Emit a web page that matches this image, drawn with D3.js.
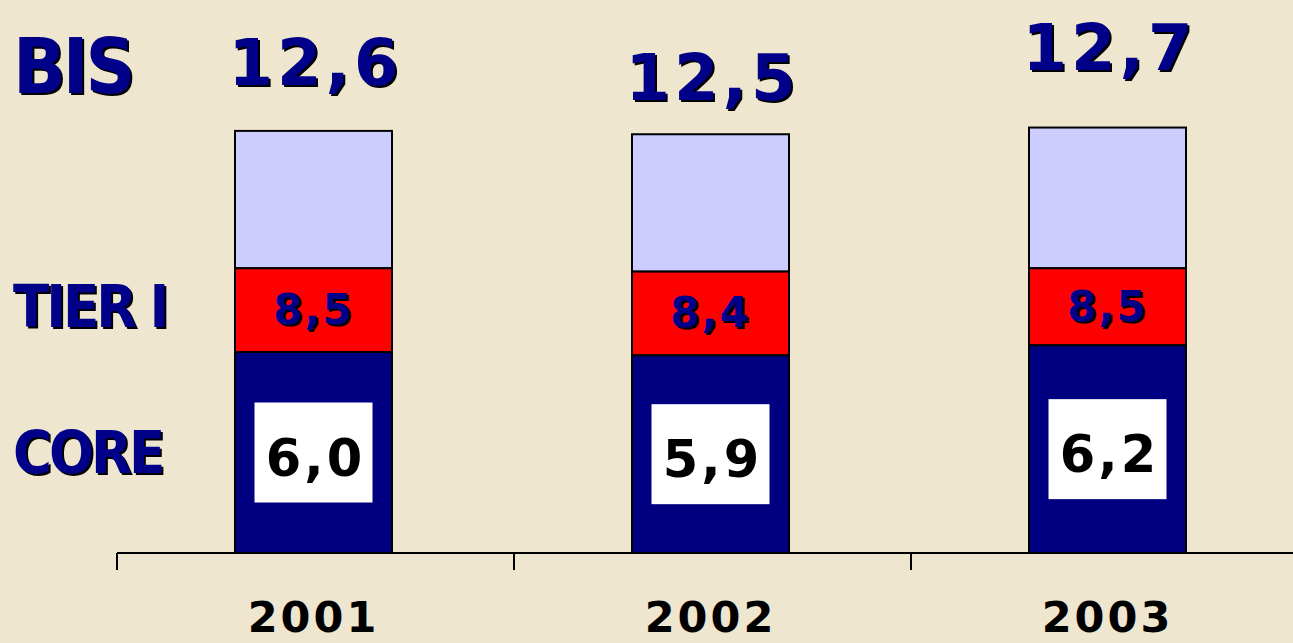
<!doctype html>
<html lang="en">
<head>
    <meta charset="UTF-8">
    <title>BIS ratios</title>
    <script src="https://cdn.jsdelivr.net/npm/d3@7"></script>
    <style>
        body{
            margin:0;
            background:#efe6d0;
        }
        svg{
            display:block;
        }
        .bar{
            stroke:#000;
            stroke-width:2px;
        }
        .blue{
            fill:#000088;
        }
        .shadow{
            fill:#000;
        }
        .side{
            font-family:"DejaVu Sans Condensed","DejaVu Sans",sans-serif;
            font-weight:bold;
        }
        .num{
            font-family:"DejaVu Sans",Verdana,sans-serif;
            font-weight:bold;
        }
    </style>
</head>
<body>
<svg width="1293" height="643"></svg>
<script>
    // data
    let years = ["2001","2002","2003"];
    let core  = [6.0, 5.9, 6.2];
    let tier1 = [8.5, 8.4, 8.5];
    let bis   = [12.6, 12.5, 12.7];
    let totalDy = [-46, -34, -58]; // totals were placed by hand on the slide

    let fmt = v => d3.format(".1f")(v).replace(".", ",");

    let svg = d3.select("svg");

    // one band per year, ticks on the band edges
    let x = d3.scaleBand()
        .domain(years)
        .range([117, 117 + 397*years.length]);
    let barW = 157;
    let cx = yr => x(yr) + x.bandwidth()/2 - 2;

    let y = d3.scaleLinear().domain([0,16]).range([553, 553 - 16*33.5]);

    let rows = years.map((yr,i)=>({year:yr, core:core[i], tier1:tier1[i], bis:bis[i], dy:totalDy[i]}));

    // stacked bars
    let segs = [
        {key:"bis",   lo:"tier1", fill:"#ccccff"},
        {key:"tier1", lo:"core",  fill:"#ff0000"},
        {key:"core",  lo:null,    fill:"#000080"}
    ];
    segs.forEach(s=>{
        svg.selectAll(".seg-"+s.key)
            .data(rows).enter()
            .append("rect")
            .attr("class","bar seg-"+s.key)
            .attr("x",d=>cx(d.year) - barW/2)
            .attr("width",barW)
            .attr("y",d=>y(d[s.key]))
            .attr("height",d=>y(s.lo ? d[s.lo] : 0) - y(d[s.key]))
            .attr("fill",s.fill);
    });

    // axis line + ticks
    let axisG = svg.append("g");
    axisG.append("line")
        .attr("x1",x.range()[0]).attr("x2",1293)
        .attr("y1",y(0)).attr("y2",y(0))
        .attr("stroke","#000").attr("stroke-width",2);
    axisG.selectAll(".tick")
        .data(years.map(yr=>x(yr)).concat([x.range()[1]])).enter()
        .append("line")
        .attr("x1",d=>d).attr("x2",d=>d)
        .attr("y1",y(0)).attr("y2",y(0)+17)
        .attr("stroke","#000").attr("stroke-width",2);

    // year labels
    svg.selectAll(".year")
        .data(rows).enter()
        .append("text")
        .attr("class","num")
        .attr("x",d=>cx(d.year))
        .attr("y",632)
        .attr("text-anchor","middle")
        .style("font-size","43px")
        .style("letter-spacing","3px")
        .text(d=>d.year);

    // text with a drop shadow
    function shadowText(sel, cls, size, spacing){
        [["shadow",2],["blue",0]].forEach(([c,o])=>{
            sel.append("text")
                .attr("class",cls + " " + c)
                .attr("dx",o).attr("dy",o)
                .attr("text-anchor","middle")
                .style("font-size",size)
                .style("letter-spacing",spacing)
                .text(d=>d.label);
        });
    }

    // totals
    let totals = svg.selectAll(".total")
        .data(rows.map(d=>({label:fmt(d.bis), d:d}))).enter()
        .append("g")
        .attr("transform",o=>`translate(${cx(o.d.year)+2},${y(o.d.bis) + o.d.dy})`);
    shadowText(totals,"num","64px","4px");

    // tier I labels inside red segment
    let t1 = svg.selectAll(".t1")
        .data(rows.map(d=>({label:fmt(d.tier1), d:d}))).enter()
        .append("g")
        .attr("transform",o=>`translate(${cx(o.d.year)},${(y(o.d.tier1)+y(o.d.core))/2 + 14})`);
    shadowText(t1,"num","42px","2px");

    // core labels in white boxes
    let cg = svg.selectAll(".coreLbl")
        .data(rows).enter()
        .append("g")
        .attr("transform",d=>`translate(${cx(d.year)},${(y(d.core)+y(0))/2})`);
    cg.append("rect")
        .attr("x",-59).attr("y",-50)
        .attr("width",118).attr("height",100)
        .attr("fill","#fff");
    cg.append("text")
        .attr("class","num")
        .attr("text-anchor","middle")
        .attr("x",2)
        .attr("y",23)
        .style("font-size","51px")
        .style("letter-spacing","3px")
        .text(d=>fmt(d.core));

    // side labels
    let side = svg.selectAll(".sideLbl")
        .data([{label:"BIS", yy:93, fs:"77px"},{label:"TIER I", yy:327, fs:"59px"},{label:"CORE", yy:473, fs:"59px"}])
        .enter().append("g")
        .attr("transform",d=>`translate(13,${d.yy})`);
    [["shadow",2],["blue",0]].forEach(([c,o])=>{
        side.append("text")
            .attr("class","side " + c)
            .attr("x",o).attr("y",o)
            .style("font-size",d=>d.fs)
            .style("letter-spacing","-3px")
            .text(d=>d.label);
    });
</script>
</body>
</html>
